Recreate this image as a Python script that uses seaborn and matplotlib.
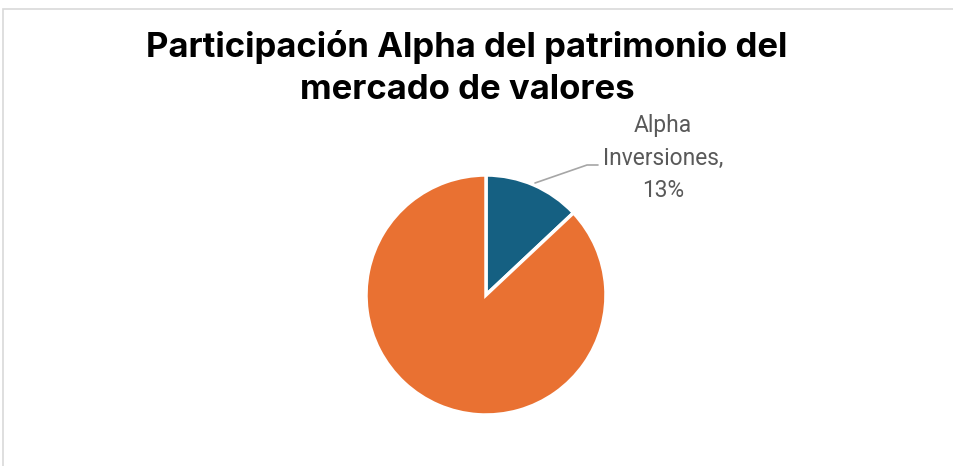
import matplotlib
matplotlib.use("Agg")
import matplotlib.pyplot as plt
import seaborn as sns
from matplotlib.patches import Rectangle

categories = ["Alpha Inversiones", "Otros"]
shares = [13, 87]
colors = ["#156082", "#E97132"]
title = "Participación Alpha del patrimonio del\nmercado de valores"

sns.set_theme(style="white")
plt.rcParams["font.family"] = ["Roboto", "DejaVu Sans"]

W, H = 954, 466
fig = plt.figure(figsize=(W / 100, H / 100), dpi=100)
fig.patch.set_facecolor("white")

# chart border (partially cropped)
fig.add_artist(Rectangle((3.5 / W, -0.1), 1.2, (H - 8.5) / H + 0.1,
                         transform=fig.transFigure, fill=False,
                         edgecolor="#D9D9D9", linewidth=1.2))

cx, cy, r = 486, 466 - 295, 120
ax = fig.add_axes([(cx - r) / W, (cy - r) / H, 2 * r / W, 2 * r / H])
wedges, _ = ax.pie(shares, colors=colors, startangle=90, counterclock=False,
                   wedgeprops=dict(edgecolor="white", linewidth=2.5))
ax.set_xlim(-1, 1)
ax.set_ylim(-1, 1)
ax.set_aspect("equal")
ax.axis("off")

lab = f"Alpha\nInversiones,\n{shares[0]}%"
ax.text((663 - cx) / r, (295 - 158) / r, lab, ha="center", va="center",
        fontsize=16.4, color="#595959", linespacing=1.55, clip_on=False)
ax.plot([(535 - cx) / r, (587 - cx) / r, (598 - cx) / r],
        [(295 - 183) / r, (295 - 165) / r, (295 - 165) / r],
        color="#A6A6A6", linewidth=1.2, clip_on=False)

fig.text(467 / W, 1 - 68 / H, title, ha="center", va="center",
         fontsize=25, fontweight="bold", color="black", linespacing=1.4,
         family=["Inter", "DejaVu Sans"])

fig.savefig("out.png", dpi=100, facecolor="white")
